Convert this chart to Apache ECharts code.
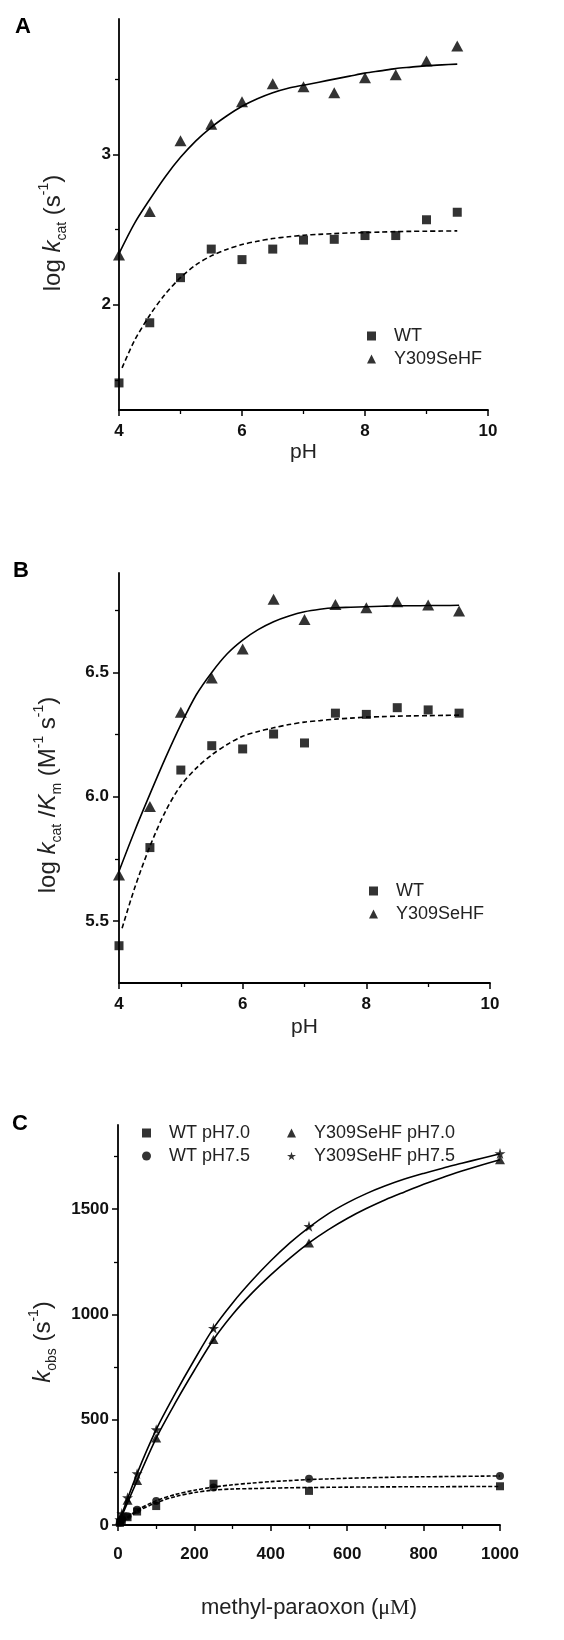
<!DOCTYPE html>
<html><head><meta charset="utf-8">
<script src="https://cdn.jsdelivr.net/npm/echarts@6/dist/echarts.min.js"></script>
<style>html,body{margin:0;padding:0;background:#fff}#c{width:564px;height:1640px}</style>
</head><body><div id="c"></div>
<script>
// ---------- data ----------
const pH = [4, 4.5, 5, 5.5, 6, 6.5, 7, 7.5, 8, 8.5, 9, 9.5];
// Panel A: log kcat
const aWT  = [1.48, 1.88, 2.18, 2.37, 2.30, 2.37, 2.43, 2.435, 2.46, 2.46, 2.565, 2.615];
const aMut = [2.33, 2.62, 3.09, 3.20, 3.35, 3.47, 3.45, 3.41, 3.51, 3.53, 3.62, 3.72];
const aMutFitX = [4, 4.25, 4.5, 4.75, 5, 5.25, 5.5, 5.75, 6, 6.25, 6.5, 6.75, 7, 7.25, 7.5, 7.75, 8, 8.25, 8.5, 8.75, 9, 9.25, 9.5];
const aMutFit  = [2.34, 2.54, 2.70, 2.85, 2.98, 3.09, 3.18, 3.255, 3.32, 3.37, 3.41, 3.44, 3.46, 3.48, 3.50, 3.52, 3.54, 3.555, 3.57, 3.58, 3.59, 3.595, 3.60];
const aWTFitX = [4.05, 4.25, 4.5, 4.75, 5, 5.25, 5.5, 5.75, 6, 6.25, 6.5, 6.75, 7, 7.25, 7.5, 7.75, 8, 8.25, 8.5, 8.75, 9, 9.25, 9.5];
const aWTFit  = [1.58, 1.76, 1.93, 2.07, 2.18, 2.265, 2.325, 2.368, 2.40, 2.422, 2.44, 2.452, 2.462, 2.468, 2.473, 2.477, 2.48, 2.483, 2.486, 2.488, 2.489, 2.490, 2.491];
// Panel B: log kcat/Km
const bWT  = [5.40, 5.795, 6.107, 6.205, 6.192, 6.252, 6.216, 6.336, 6.331, 6.358, 6.349, 6.336];
const bMut = [5.685, 5.96, 6.34, 6.477, 6.594, 6.794, 6.713, 6.773, 6.76, 6.784, 6.771, 6.747];
const bMutFitX = [4, 4.25, 4.5, 4.75, 5, 5.25, 5.5, 5.75, 6, 6.25, 6.5, 6.75, 7, 7.25, 7.5, 7.75, 8, 8.25, 8.5, 8.75, 9, 9.25, 9.5];
const bMutFit  = [5.70, 5.86, 6.01, 6.155, 6.29, 6.41, 6.50, 6.575, 6.63, 6.672, 6.704, 6.727, 6.744, 6.754, 6.76, 6.762, 6.764, 6.766, 6.768, 6.768, 6.769, 6.769, 6.77];
const bWTFitX = [4.05, 4.25, 4.5, 4.75, 5, 5.25, 5.5, 5.75, 6, 6.25, 6.5, 6.75, 7, 7.25, 7.5, 7.75, 8, 8.25, 8.5, 8.75, 9, 9.25, 9.5];
const bWTFit  = [5.47, 5.63, 5.80, 5.94, 6.045, 6.115, 6.168, 6.21, 6.243, 6.262, 6.277, 6.29, 6.30, 6.306, 6.312, 6.316, 6.32, 6.322, 6.324, 6.325, 6.326, 6.327, 6.328];
// Panel C: kobs vs methyl-paraoxon
const conc   = [5, 10, 25, 50, 100, 250, 500, 1000];
const cWT70  = [10, 20, 37, 64, 90, 196, 162, 184];
const cWT75  = [12, 24, 42, 73, 114, 178, 220, 233];
const cMut70 = [22, 45, 117, 211, 413, 881, 1340, 1735];
const cMut75 = [26, 55, 130, 244, 453, 935, 1419, 1765];
const cFitX     = [0, 50, 100, 150, 200, 250, 300, 350, 400, 450, 500, 550, 600, 650, 700, 750, 800, 850, 900, 950, 1000];
const cMut75Fit = [0, 244, 453, 625, 785, 935, 1055, 1160, 1255, 1340, 1414, 1478, 1530, 1574, 1611, 1643, 1670, 1695, 1718, 1741, 1763];
const cMut70Fit = [0, 211, 413, 580, 735, 881, 1000, 1100, 1188, 1268, 1340, 1402, 1456, 1503, 1545, 1582, 1618, 1651, 1681, 1709, 1735];
const cWT75Fit  = [0, 70, 115, 145, 165, 180, 191, 199, 206, 211, 216, 219, 222, 224, 226, 228, 229, 230, 231, 232, 233];
const cWT70Fit  = [0, 63, 106, 135, 154, 166, 171, 173, 175, 177, 178, 179, 180, 180.5, 181, 181.5, 182, 182, 182.5, 183, 183];
// tick values
const aYTicks = [2, 3],               aYMinor = [1.5, 2.5, 3.5];
const bYTicks = [5.5, 6.0, 6.5],      bYMinor = [5.75, 6.25, 6.75];
const cYTicks = [0, 500, 1000, 1500], cYMinor = [250, 750, 1250, 1750];

// ---------- helpers ----------
const F = '"Liberation Sans", Arial, sans-serif';
const K = '#000';
const zip = (xs, ys) => xs.map((x, i) => [x, ys[i]]);
const STAR = 'path://M50,0 L61,35 L98,35 L68,57 L79,91 L50,70 L21,91 L32,57 L2,35 L39,35 Z';

const grids = [
  {left: 119, top: 19,   width: 369, height: 391},
  {left: 119, top: 573,  width: 371, height: 410},
  {left: 118, top: 1125, width: 382, height: 400}
];

function xAx(gi, min, max, interval, name, gap, margin, rich) {
  return {
    gridIndex: gi, type: 'value', min, max, interval,
    axisLine: {show: true, onZero: false, lineStyle: {color: K, width: 1.8}},
    axisTick: {show: true, length: 6, lineStyle: {color: K, width: 1.5}},
    minorTick: {show: true, splitNumber: 2, length: 4, lineStyle: {color: K, width: 1.3}},
    axisLabel: {margin, fontSize: 17, fontWeight: 'bold', color: '#111', fontFamily: F,
                formatter: v => String(v)},
    splitLine: {show: false},
    name, nameLocation: 'middle', nameGap: gap,
    nameTextStyle: {fontSize: 21, color: '#222', fontFamily: F, rich: rich || {}}
  };
}
function yAx(gi, min, max, ticks, margin, fmt) {
  return {
    gridIndex: gi, type: 'value', min, max, position: 'left',
    axisLine: {show: true, onZero: false, lineStyle: {color: K, width: 1.8}},
    axisTick: {show: true, length: 6, customValues: ticks, lineStyle: {color: K, width: 1.5}},
    axisLabel: {customValues: ticks, margin, fontSize: 17, fontWeight: 'bold', color: '#111', fontFamily: F,
                formatter: fmt || (v => String(v))},
    splitLine: {show: false}
  };
}
function yMinor(gi, min, max, ticks) {
  return {
    gridIndex: gi, type: 'value', min, max, position: 'right', offset: -grids[gi].width,
    axisLine: {show: false, onZero: false},
    axisTick: {show: true, inside: true, length: 4, customValues: ticks, lineStyle: {color: K, width: 1.3}},
    axisLabel: {show: false},
    splitLine: {show: false}
  };
}
function sc(name, xi, yi, data, symbol, size) {
  return {type: 'scatter', name, xAxisIndex: xi, yAxisIndex: yi, data, symbol, symbolSize: size,
          itemStyle: {color: K}, z: 4, silent: true};
}
function fit(xi, yi, data, dash) {
  return {type: 'line', xAxisIndex: xi, yAxisIndex: yi, data, showSymbol: false, symbol: 'none',
          smooth: 0.3, silent: true, z: 3,
          lineStyle: {color: K, width: 1.6, type: dash || 'solid'}};
}
function legend(names, icons, left, top) {
  return {
    data: names.map((n, i) => ({name: n, icon: icons[i]})),
    orient: 'vertical', left, top, itemWidth: 9, itemHeight: 9, itemGap: 3,
    selectedMode: false,
    textStyle: {fontSize: 18, color: '#222', fontFamily: F, lineHeight: 20, padding: [0, 0, 0, 13]}
  };
}
const subRich = {
  n: {fontSize: 24, fontFamily: F, lineHeight: 32, color: '#222', fill: '#222'},
  i: {fontSize: 24, fontFamily: F, fontStyle: 'italic', lineHeight: 32, color: '#222', fill: '#222'},
  s: {fontSize: 14, fontFamily: F, lineHeight: 13, verticalAlign: 'bottom', color: '#222', fill: '#222'},
  p: {fontSize: 14, fontFamily: F, lineHeight: 15, verticalAlign: 'top', color: '#222', fill: '#222'}
};
function ytitle(text, x, y) {
  return {type: 'text', x, y, rotation: Math.PI / 2, silent: true,
          style: {text, rich: subRich, align: 'center', verticalAlign: 'middle',
                  textAlign: 'center', textVerticalAlign: 'middle'}};
}
function letter(t, x, y) {
  return {type: 'text', x, y, silent: true,
          style: {text: t, fontSize: 22, fontWeight: 'bold', fontFamily: F, fill: '#000',
                  align: 'center', verticalAlign: 'middle', textAlign: 'center', textVerticalAlign: 'middle'}};
}

const option = {
  animation: false,
  backgroundColor: '#fff',
  grid: grids,
  xAxis: [
    xAx(0, 4, 10, 2, 'pH', 32, 13),
    xAx(1, 4, 10, 2, 'pH', 34, 13),
    xAx(2, 0, 1000, 200, '{a|methyl-paraoxon (}{b|\u03bcM}{a|)}', 72, 21, {
      a: {fontSize: 22, fontFamily: F, color: '#222'},
      b: {fontSize: 22, fontFamily: '"Liberation Serif", "Times New Roman", serif', color: '#222'}
    })
  ],
  yAxis: [
    yAx(0, 1.3, 3.9, aYTicks, 8),
    yMinor(0, 1.3, 3.9, aYMinor),
    yAx(1, 5.25, 6.9, bYTicks, 10, v => v.toFixed(1)),
    yMinor(1, 5.25, 6.9, bYMinor),
    yAx(2, 0, 1900, cYTicks, 9),
    yMinor(2, 0, 1900, cYMinor)
  ],
  legend: [
    legend(['WT', 'Y309SeHF'], ['rect', 'triangle'], 362, 321),
    legend(['WT', 'Y309SeHF'], ['rect', 'triangle'], 364, 876),
    legend(['WT pH7.0', 'WT pH7.5'], ['rect', 'circle'], 137, 1118),
    legend(['Y309SeHF pH7.0', 'Y309SeHF pH7.5'], ['triangle', STAR], 282, 1118)
  ],
  graphic: [
    letter('A', 23, 27), letter('B', 21, 571), letter('C', 20, 1124),
    ytitle('{n|log }{i|k}{s|cat}{n| (s}{p|-1}{n|)}', 53, 233),
    ytitle('{n|log }{i|k}{s|cat}{n| /}{i|K}{s|m}{n| (M}{p|-1}{n| s}{p|-1}{n|)}', 48, 795),
    ytitle('{i|k}{s|obs}{n| (s}{p|-1}{n|)}', 43, 1342)
  ],
  series: [
    fit(0, 0, zip(aMutFitX, aMutFit)),
    fit(0, 0, zip(aWTFitX, aWTFit), [5, 3]),
    sc('WT', 0, 0, zip(pH, aWT), 'rect', 9),
    sc('Y309SeHF', 0, 0, zip(pH, aMut), 'triangle', [12, 11]),

    fit(1, 2, zip(bMutFitX, bMutFit)),
    fit(1, 2, zip(bWTFitX, bWTFit), [5, 3]),
    sc('WT', 1, 2, zip(pH, bWT), 'rect', 9),
    sc('Y309SeHF', 1, 2, zip(pH, bMut), 'triangle', [12, 11]),

    fit(2, 4, zip(cFitX, cMut75Fit)),
    fit(2, 4, zip(cFitX, cMut70Fit)),
    fit(2, 4, zip(cFitX, cWT75Fit), [4, 2]),
    fit(2, 4, zip(cFitX, cWT70Fit), [4, 2]),
    sc('WT pH7.0', 2, 4, zip(conc, cWT70), 'rect', 8),
    sc('WT pH7.5', 2, 4, zip(conc, cWT75), 'circle', 8),
    sc('Y309SeHF pH7.0', 2, 4, zip(conc, cMut70), 'triangle', [10, 9]),
    sc('Y309SeHF pH7.5', 2, 4, zip(conc, cMut75), STAR, 11)
  ]
};
const chart = echarts.init(document.getElementById('c'), null, {renderer: 'canvas'});
chart.setOption(option);
</script>
</body></html>
